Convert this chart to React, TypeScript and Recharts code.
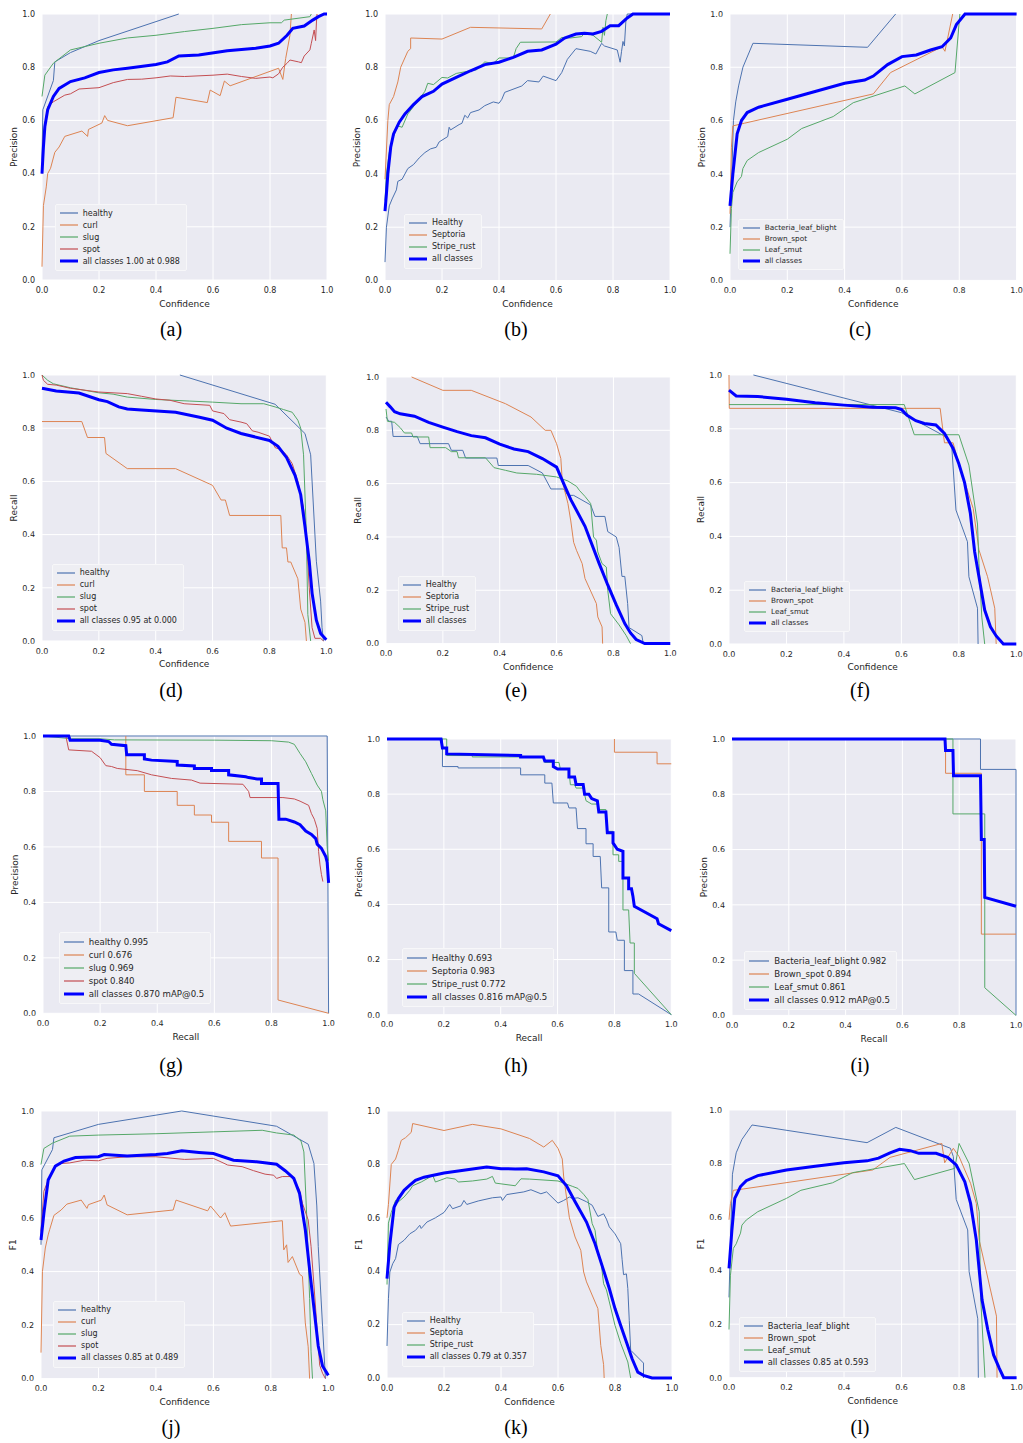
import React from 'react';
import { LineChart, Line, XAxis, YAxis, CartesianGrid, Legend } from 'recharts';

// seaborn "deep" colours used by the per-class curves
const C_BLUE = '#4C72B0';
const C_ORANGE = '#DD8452';
const C_GREEN = '#55A868';
const C_RED = '#C44E52';
const C_ALL = '#0000FF';

const TICKS = [0, 0.2, 0.4, 0.6, 0.8, 1.0];

// ---- (a) precision / confidence, tomato classes
const aHealthy = [[0, 0.45], [0.003, 0.64], [0.04, 0.75], [0.045, 0.82], [0.1, 0.855], [0.2, 0.9], [0.48, 1.0]];
const aCurl = [[0, 0.05], [0.005, 0.28], [0.015, 0.35], [0.02, 0.4], [0.03, 0.42], [0.045, 0.48], [0.06, 0.5], [0.08, 0.54], [0.14, 0.56], [0.16, 0.54], [0.163, 0.566], [0.21, 0.59], [0.22, 0.618], [0.23, 0.6], [0.3, 0.58], [0.46, 0.61], [0.47, 0.687], [0.58, 0.667], [0.59, 0.714], [0.625, 0.693], [0.64, 0.748], [0.66, 0.73], [0.83, 0.796], [0.845, 0.754], [0.855, 0.833], [0.87, 0.92], [0.875, 1.0]];
const aSlug = [[0, 0.69], [0.01, 0.77], [0.04, 0.815], [0.1, 0.865], [0.2, 0.89], [0.3, 0.91], [0.4, 0.92], [0.5, 0.934], [0.6, 0.946], [0.7, 0.96], [0.8, 0.967], [0.84, 0.967], [0.85, 0.977], [0.94, 0.99], [0.945, 1.0]];
const aSpot = [[0, 0.4], [0.005, 0.55], [0.02, 0.652], [0.04, 0.67], [0.08, 0.695], [0.1, 0.7], [0.13, 0.718], [0.2, 0.723], [0.25, 0.742], [0.3, 0.754], [0.35, 0.755], [0.4, 0.76], [0.45, 0.767], [0.5, 0.765], [0.6, 0.77], [0.65, 0.774], [0.7, 0.765], [0.75, 0.758], [0.8, 0.763], [0.81, 0.76], [0.83, 0.775], [0.845, 0.8], [0.86, 0.815], [0.87, 0.827], [0.9, 0.82], [0.91, 0.817], [0.92, 0.842], [0.94, 0.865], [0.945, 0.89], [0.955, 0.94], [0.96, 0.9], [0.963, 0.97], [0.965, 1.0]];
const aAll = [[0, 0.4], [0.005, 0.5], [0.01, 0.576], [0.02, 0.64], [0.04, 0.69], [0.06, 0.72], [0.1, 0.746], [0.15, 0.76], [0.2, 0.78], [0.25, 0.79], [0.3, 0.796], [0.4, 0.81], [0.44, 0.82], [0.48, 0.842], [0.55, 0.846], [0.65, 0.862], [0.75, 0.871], [0.8, 0.88], [0.83, 0.89], [0.86, 0.92], [0.88, 0.946], [0.92, 0.955], [0.95, 0.977], [0.97, 0.99], [0.99, 1.0], [1.0, 1.0]];

// ---- (b) precision / confidence, wheat classes
const bHealthy = [[0, 0.069], [0.005, 0.2], [0.015, 0.28], [0.025, 0.306], [0.04, 0.34], [0.045, 0.372], [0.06, 0.38], [0.08, 0.42], [0.1, 0.435], [0.12, 0.46], [0.14, 0.48], [0.16, 0.494], [0.18, 0.5], [0.19, 0.52], [0.22, 0.54], [0.225, 0.575], [0.23, 0.565], [0.26, 0.585], [0.27, 0.59], [0.28, 0.62], [0.29, 0.61], [0.3, 0.63], [0.33, 0.64], [0.35, 0.656], [0.38, 0.67], [0.4, 0.665], [0.41, 0.68], [0.42, 0.706], [0.48, 0.73], [0.5, 0.75], [0.54, 0.745], [0.555, 0.767], [0.6, 0.75], [0.62, 0.78], [0.64, 0.83], [0.67, 0.87], [0.72, 0.86], [0.74, 0.85], [0.76, 0.89], [0.77, 0.88], [0.8, 0.87], [0.815, 0.865], [0.825, 0.819], [0.83, 0.86], [0.835, 0.897], [0.84, 0.88], [0.845, 0.97], [0.85, 1.0], [1.0, 1.0]];
const bSeptoria = [[0, 0.38], [0.01, 0.6], [0.015, 0.66], [0.03, 0.69], [0.045, 0.745], [0.055, 0.8], [0.08, 0.86], [0.09, 0.87], [0.09, 0.91], [0.2, 0.906], [0.3, 0.95], [0.55, 0.944], [0.58, 1.0]];
const bStripe = [[0, 0.3], [0.005, 0.4], [0.015, 0.48], [0.025, 0.525], [0.035, 0.556], [0.045, 0.58], [0.06, 0.575], [0.08, 0.625], [0.12, 0.68], [0.14, 0.71], [0.15, 0.74], [0.17, 0.735], [0.2, 0.762], [0.22, 0.76], [0.25, 0.777], [0.3, 0.787], [0.32, 0.79], [0.35, 0.82], [0.38, 0.815], [0.4, 0.835], [0.45, 0.835], [0.46, 0.87], [0.475, 0.894], [0.6, 0.895], [0.62, 0.912], [0.65, 0.91], [0.69, 0.915], [0.7, 0.93], [0.73, 0.92], [0.76, 0.894], [0.765, 0.95], [0.77, 0.92], [0.775, 0.975], [0.78, 1.0]];
const bAll = [[0, 0.26], [0.005, 0.325], [0.01, 0.4], [0.02, 0.5], [0.03, 0.55], [0.05, 0.594], [0.07, 0.625], [0.1, 0.66], [0.13, 0.69], [0.17, 0.71], [0.2, 0.737], [0.25, 0.762], [0.3, 0.787], [0.35, 0.81], [0.4, 0.819], [0.45, 0.837], [0.5, 0.86], [0.55, 0.865], [0.6, 0.887], [0.63, 0.91], [0.67, 0.925], [0.7, 0.928], [0.73, 0.925], [0.76, 0.935], [0.79, 0.956], [0.82, 0.956], [0.85, 0.985], [0.87, 1.0], [1.0, 1.0]];

// ---- (c) precision / confidence, rice classes
const cBlight = [[0, 0.2], [0.005, 0.35], [0.012, 0.6], [0.02, 0.67], [0.03, 0.73], [0.045, 0.8], [0.08, 0.89], [0.48, 0.875], [0.578, 1.0]];
const cBrown = [[0, 0.25], [0.005, 0.5], [0.01, 0.58], [0.05, 0.59], [0.5, 0.7], [0.56, 0.78], [0.74, 0.877], [0.75, 0.86], [0.777, 1.0]];
const cSmut = [[0, 0.1], [0.005, 0.27], [0.01, 0.33], [0.025, 0.37], [0.04, 0.39], [0.045, 0.42], [0.06, 0.45], [0.1, 0.48], [0.2, 0.53], [0.25, 0.57], [0.36, 0.615], [0.43, 0.667], [0.61, 0.73], [0.645, 0.7], [0.785, 0.78], [0.802, 1.0]];
const cAll = [[0, 0.28], [0.01, 0.4], [0.025, 0.55], [0.04, 0.6], [0.06, 0.63], [0.1, 0.65], [0.2, 0.68], [0.3, 0.71], [0.4, 0.74], [0.47, 0.752], [0.5, 0.767], [0.55, 0.81], [0.6, 0.84], [0.65, 0.846], [0.7, 0.865], [0.74, 0.877], [0.77, 0.91], [0.79, 0.96], [0.82, 1.0], [1.0, 1.0]];

// ---- (d) recall / confidence
const dHealthy = [[0.485, 1.0], [0.82, 0.89], [0.925, 0.78], [0.945, 0.7], [0.955, 0.5], [0.965, 0.3], [0.98, 0.15], [0.985, 0.05], [0.99, 0.0]];
const dCurl = [[0, 0.825], [0.14, 0.825], [0.16, 0.765], [0.22, 0.765], [0.225, 0.705], [0.3, 0.648], [0.47, 0.648], [0.59, 0.59], [0.6, 0.585], [0.63, 0.53], [0.645, 0.53], [0.66, 0.472], [0.84, 0.472], [0.845, 0.35], [0.86, 0.35], [0.865, 0.297], [0.875, 0.297], [0.9, 0.234], [0.91, 0.12], [0.925, 0.07], [0.93, 0.0]];
const dSlug = [[0, 1.0], [0.02, 0.98], [0.04, 0.967], [0.1, 0.952], [0.2, 0.933], [0.25, 0.928], [0.3, 0.917], [0.4, 0.908], [0.52, 0.902], [0.6, 0.898], [0.7, 0.892], [0.78, 0.892], [0.82, 0.88], [0.85, 0.87], [0.88, 0.86], [0.9, 0.83], [0.91, 0.8], [0.92, 0.7], [0.93, 0.4], [0.935, 0.1], [0.945, 0.0]];
const dSpot = [[0, 1.0], [0.005, 0.98], [0.02, 0.965], [0.05, 0.962], [0.1, 0.95], [0.2, 0.936], [0.3, 0.93], [0.35, 0.92], [0.4, 0.91], [0.45, 0.905], [0.5, 0.892], [0.59, 0.886], [0.6, 0.865], [0.64, 0.855], [0.66, 0.832], [0.7, 0.823], [0.72, 0.817], [0.74, 0.79], [0.76, 0.785], [0.8, 0.77], [0.82, 0.727], [0.84, 0.72], [0.86, 0.7], [0.88, 0.667], [0.9, 0.6], [0.92, 0.5], [0.93, 0.4], [0.94, 0.2], [0.95, 0.05], [0.96, 0.01], [0.98, 0.01], [0.99, 0.0]];
const dAll = [[0, 0.95], [0.05, 0.94], [0.13, 0.932], [0.2, 0.907], [0.23, 0.9], [0.27, 0.88], [0.3, 0.872], [0.35, 0.868], [0.47, 0.86], [0.55, 0.842], [0.6, 0.83], [0.65, 0.8], [0.7, 0.78], [0.8, 0.754], [0.83, 0.732], [0.86, 0.69], [0.89, 0.623], [0.91, 0.55], [0.925, 0.43], [0.94, 0.3], [0.95, 0.18], [0.965, 0.078], [0.98, 0.028], [1.0, 0.005]];

// ---- (e)
const eHealthy = [[0, 0.85], [0.01, 0.834], [0.02, 0.834], [0.025, 0.777], [0.11, 0.777], [0.12, 0.75], [0.22, 0.75], [0.23, 0.725], [0.27, 0.725], [0.28, 0.696], [0.39, 0.696], [0.395, 0.668], [0.5, 0.668], [0.55, 0.64], [0.58, 0.58], [0.625, 0.58], [0.64, 0.556], [0.66, 0.556], [0.72, 0.52], [0.735, 0.477], [0.77, 0.477], [0.78, 0.42], [0.81, 0.4], [0.82, 0.36], [0.83, 0.252], [0.84, 0.252], [0.85, 0.15], [0.855, 0.06], [0.9, 0.03], [0.905, 0.0]];
const eSeptoria = [[0.09, 1.0], [0.2, 0.95], [0.3, 0.95], [0.42, 0.9], [0.51, 0.85], [0.56, 0.8], [0.58, 0.8], [0.6, 0.75], [0.615, 0.694], [0.62, 0.61], [0.64, 0.525], [0.65, 0.46], [0.66, 0.38], [0.67, 0.35], [0.69, 0.3], [0.7, 0.244], [0.74, 0.15], [0.745, 0.1], [0.76, 0.0625], [0.762, 0.0]];
const eStripe = [[0, 0.88], [0.005, 0.834], [0.03, 0.83], [0.05, 0.81], [0.065, 0.79], [0.09, 0.79], [0.095, 0.775], [0.15, 0.775], [0.155, 0.735], [0.21, 0.735], [0.23, 0.72], [0.25, 0.72], [0.255, 0.697], [0.35, 0.697], [0.38, 0.66], [0.42, 0.65], [0.46, 0.64], [0.53, 0.635], [0.6, 0.625], [0.64, 0.61], [0.67, 0.59], [0.68, 0.575], [0.7, 0.552], [0.72, 0.525], [0.73, 0.4], [0.74, 0.388], [0.745, 0.344], [0.76, 0.3], [0.775, 0.287], [0.78, 0.2], [0.79, 0.112], [0.82, 0.07], [0.845, 0.03], [0.86, 0.0]];
const eAll = [[0, 0.905], [0.015, 0.888], [0.03, 0.87], [0.05, 0.862], [0.1, 0.853], [0.15, 0.83], [0.2, 0.812], [0.25, 0.795], [0.3, 0.78], [0.35, 0.772], [0.4, 0.748], [0.45, 0.73], [0.5, 0.72], [0.55, 0.694], [0.6, 0.662], [0.625, 0.6], [0.65, 0.54], [0.7, 0.44], [0.75, 0.3], [0.78, 0.22], [0.81, 0.145], [0.84, 0.075], [0.86, 0.04], [0.88, 0.015], [0.91, 0.0], [1.0, 0.0]];

// ---- (f)
const fBlight = [[0.085, 1.0], [0.6, 0.86], [0.75, 0.773], [0.775, 0.74], [0.79, 0.498], [0.83, 0.38], [0.835, 0.25], [0.865, 0.133], [0.867, 0.0]];
const fBrown = [[0, 1.0], [0.001, 0.876], [0.735, 0.876], [0.75, 0.748], [0.78, 0.748], [0.8, 0.67], [0.85, 0.504], [0.87, 0.35], [0.9, 0.25], [0.925, 0.133], [0.93, 0.0]];
const fSmut = [[0, 0.89], [0.61, 0.89], [0.645, 0.778], [0.8, 0.778], [0.835, 0.665], [0.865, 0.446], [0.87, 0.3], [0.88, 0.1], [0.89, 0.0]];
const fAll = [[0, 0.944], [0.025, 0.922], [0.1, 0.92], [0.2, 0.91], [0.3, 0.897], [0.4, 0.888], [0.5, 0.88], [0.58, 0.878], [0.6, 0.872], [0.62, 0.85], [0.65, 0.83], [0.68, 0.82], [0.72, 0.814], [0.75, 0.783], [0.78, 0.727], [0.8, 0.67], [0.82, 0.6], [0.84, 0.486], [0.855, 0.343], [0.87, 0.25], [0.89, 0.126], [0.91, 0.064], [0.93, 0.03], [0.955, 0.0], [1.0, 0.0]];

// ---- (g) precision / recall
const gHealthy = [[0, 1.0], [0.995, 1.0], [1.0, 0.0]];
const gCurl = [[0.29, 1.0], [0.29, 0.86], [0.355, 0.86], [0.355, 0.8], [0.47, 0.8], [0.47, 0.75], [0.53, 0.75], [0.53, 0.715], [0.59, 0.715], [0.59, 0.689], [0.65, 0.689], [0.65, 0.62], [0.765, 0.62], [0.765, 0.56], [0.823, 0.56], [0.823, 0.048], [1.0, 0.0]];
const gSlug = [[0, 1.0], [0.1, 0.99], [0.2, 0.99], [0.25, 0.986], [0.6, 0.985], [0.8, 0.983], [0.86, 0.978], [0.88, 0.97], [0.9, 0.937], [0.92, 0.907], [0.94, 0.865], [0.96, 0.823], [0.975, 0.8], [0.98, 0.77], [0.99, 0.73], [0.995, 0.6], [1.0, 0.55]];
const gSpot = [[0, 1.0], [0.08, 1.0], [0.09, 0.95], [0.17, 0.945], [0.2, 0.922], [0.22, 0.893], [0.24, 0.89], [0.26, 0.883], [0.33, 0.875], [0.38, 0.86], [0.45, 0.847], [0.52, 0.841], [0.55, 0.83], [0.7, 0.826], [0.72, 0.8], [0.725, 0.778], [0.84, 0.778], [0.88, 0.773], [0.9, 0.765], [0.93, 0.75], [0.94, 0.72], [0.95, 0.7], [0.96, 0.667], [0.965, 0.583], [0.97, 0.535], [0.975, 0.5], [0.98, 0.475]];
const gAll = [[0, 1.0], [0.09, 1.0], [0.095, 0.985], [0.2, 0.985], [0.23, 0.98], [0.24, 0.97], [0.29, 0.965], [0.293, 0.932], [0.355, 0.932], [0.355, 0.917], [0.38, 0.913], [0.47, 0.908], [0.47, 0.895], [0.53, 0.892], [0.53, 0.883], [0.59, 0.883], [0.59, 0.876], [0.65, 0.876], [0.65, 0.86], [0.71, 0.853], [0.72, 0.85], [0.75, 0.845], [0.765, 0.845], [0.765, 0.829], [0.823, 0.829], [0.826, 0.7], [0.85, 0.7], [0.88, 0.69], [0.9, 0.68], [0.92, 0.657], [0.94, 0.645], [0.955, 0.63], [0.96, 0.61], [0.975, 0.595], [0.98, 0.585], [0.99, 0.565], [0.995, 0.545], [1.0, 0.47]];

// ---- (h)
const hHealthy = [[0, 1.0], [0.195, 1.0], [0.195, 0.9], [0.25, 0.9], [0.25, 0.895], [0.47, 0.895], [0.47, 0.87], [0.555, 0.87], [0.555, 0.84], [0.58, 0.84], [0.585, 0.768], [0.635, 0.768], [0.64, 0.75], [0.665, 0.75], [0.67, 0.675], [0.7, 0.675], [0.7, 0.62], [0.725, 0.62], [0.725, 0.574], [0.75, 0.574], [0.755, 0.46], [0.78, 0.46], [0.78, 0.3], [0.805, 0.3], [0.81, 0.27], [0.835, 0.27], [0.835, 0.16], [0.865, 0.16], [0.865, 0.075], [0.885, 0.075], [1.0, 0.0]];
const hSeptoria = [[0.8, 1.0], [0.8, 0.952], [0.95, 0.952], [0.95, 0.91], [1.0, 0.91]];
const hStripe = [[0, 1.0], [0.21, 1.0], [0.21, 0.94], [0.3, 0.94], [0.3, 0.935], [0.55, 0.935], [0.555, 0.915], [0.605, 0.915], [0.61, 0.89], [0.64, 0.89], [0.645, 0.834], [0.66, 0.834], [0.665, 0.822], [0.69, 0.822], [0.7, 0.776], [0.72, 0.764], [0.74, 0.764], [0.745, 0.744], [0.77, 0.744], [0.775, 0.665], [0.795, 0.665], [0.795, 0.58], [0.815, 0.58], [0.815, 0.556], [0.83, 0.556], [0.83, 0.38], [0.85, 0.38], [0.855, 0.26], [0.87, 0.26], [0.87, 0.15], [1.0, 0.0]];
const hAll = [[0, 1.0], [0.19, 1.0], [0.195, 0.967], [0.21, 0.967], [0.21, 0.946], [0.47, 0.94], [0.47, 0.935], [0.55, 0.935], [0.555, 0.92], [0.585, 0.92], [0.585, 0.9], [0.6, 0.891], [0.64, 0.891], [0.64, 0.862], [0.66, 0.862], [0.665, 0.835], [0.69, 0.835], [0.695, 0.8], [0.71, 0.8], [0.72, 0.784], [0.74, 0.776], [0.745, 0.735], [0.77, 0.735], [0.775, 0.66], [0.795, 0.66], [0.795, 0.623], [0.81, 0.6], [0.83, 0.593], [0.83, 0.496], [0.85, 0.496], [0.85, 0.457], [0.86, 0.457], [0.865, 0.43], [0.87, 0.393], [0.95, 0.348], [0.955, 0.33], [1.0, 0.305]];

// ---- (i)
const iBlight = [[0, 1.0], [0.875, 1.0], [0.875, 0.89], [1.0, 0.89], [1.0, 0.0]];
const iBrown = [[0, 1.0], [0.752, 1.0], [0.752, 0.876], [0.878, 0.876], [0.878, 0.294], [1.0, 0.294]];
const iSmut = [[0, 1.0], [0.778, 1.0], [0.778, 0.729], [0.89, 0.729], [0.89, 0.1], [1.0, 0.0]];
const iAll = [[0, 1.0], [0.75, 1.0], [0.752, 0.958], [0.778, 0.958], [0.78, 0.867], [0.875, 0.867], [0.878, 0.636], [0.888, 0.636], [0.89, 0.427], [1.0, 0.395]];

// ---- (j) F1 / confidence
const jHealthy = [[0, 0.5], [0.003, 0.78], [0.04, 0.856], [0.045, 0.9], [0.2, 0.95], [0.49, 1.0], [0.82, 0.943], [0.93, 0.876], [0.95, 0.804], [0.96, 0.645], [0.965, 0.494], [0.98, 0.196], [0.99, 0.0]];
const jCurl = [[0, 0.097], [0.005, 0.4], [0.015, 0.488], [0.025, 0.537], [0.03, 0.556], [0.045, 0.61], [0.07, 0.63], [0.09, 0.652], [0.14, 0.667], [0.16, 0.636], [0.165, 0.65], [0.21, 0.667], [0.22, 0.686], [0.23, 0.649], [0.3, 0.612], [0.46, 0.63], [0.47, 0.667], [0.58, 0.627], [0.59, 0.645], [0.625, 0.6], [0.64, 0.62], [0.66, 0.57], [0.84, 0.59], [0.845, 0.481], [0.855, 0.5], [0.86, 0.434], [0.875, 0.456], [0.9, 0.39], [0.91, 0.382], [0.92, 0.208], [0.93, 0.119], [0.935, 0.0]];
const jSlug = [[0, 0.8], [0.01, 0.86], [0.04, 0.88], [0.1, 0.906], [0.2, 0.91], [0.4, 0.915], [0.6, 0.922], [0.77, 0.928], [0.82, 0.918], [0.88, 0.91], [0.905, 0.888], [0.915, 0.847], [0.925, 0.605], [0.935, 0.3], [0.94, 0.1], [0.945, 0.0]];
const jSpot = [[0, 0.55], [0.01, 0.7], [0.025, 0.742], [0.05, 0.794], [0.07, 0.804], [0.1, 0.806], [0.15, 0.816], [0.2, 0.814], [0.23, 0.823], [0.3, 0.829], [0.4, 0.829], [0.5, 0.819], [0.6, 0.823], [0.65, 0.798], [0.7, 0.792], [0.74, 0.777], [0.78, 0.764], [0.81, 0.76], [0.82, 0.748], [0.84, 0.755], [0.87, 0.755], [0.88, 0.742], [0.9, 0.705], [0.91, 0.655], [0.93, 0.593], [0.94, 0.494], [0.95, 0.35], [0.96, 0.2], [0.97, 0.05], [0.98, 0.02], [0.99, 0.0]];
const jAll = [[0, 0.518], [0.01, 0.618], [0.025, 0.742], [0.05, 0.794], [0.08, 0.813], [0.12, 0.826], [0.2, 0.829], [0.22, 0.837], [0.3, 0.832], [0.4, 0.837], [0.44, 0.841], [0.49, 0.851], [0.55, 0.845], [0.6, 0.841], [0.67, 0.816], [0.75, 0.81], [0.82, 0.801], [0.85, 0.777], [0.88, 0.748], [0.9, 0.692], [0.92, 0.556], [0.935, 0.407], [0.95, 0.264], [0.965, 0.122], [0.98, 0.047], [1.0, 0.012]];

// ---- (k)
const kHealthy = [[0, 0.12], [0.005, 0.297], [0.01, 0.397], [0.02, 0.428], [0.03, 0.447], [0.04, 0.5], [0.06, 0.516], [0.08, 0.54], [0.1, 0.553], [0.115, 0.572], [0.12, 0.56], [0.14, 0.584], [0.17, 0.6], [0.2, 0.62], [0.22, 0.65], [0.23, 0.634], [0.26, 0.645], [0.27, 0.665], [0.28, 0.65], [0.32, 0.663], [0.37, 0.675], [0.4, 0.678], [0.405, 0.665], [0.42, 0.687], [0.48, 0.697], [0.505, 0.705], [0.54, 0.69], [0.56, 0.697], [0.6, 0.655], [0.62, 0.665], [0.64, 0.678], [0.65, 0.672], [0.67, 0.675], [0.7, 0.66], [0.72, 0.647], [0.74, 0.605], [0.76, 0.615], [0.77, 0.595], [0.78, 0.566], [0.8, 0.54], [0.82, 0.503], [0.825, 0.443], [0.83, 0.387], [0.84, 0.39], [0.845, 0.335], [0.85, 0.216], [0.855, 0.104], [0.9, 0.056], [0.9, 0.0]];
const kSeptoria = [[0, 0.6], [0.005, 0.65], [0.015, 0.8], [0.03, 0.82], [0.04, 0.853], [0.05, 0.89], [0.065, 0.9], [0.085, 0.92], [0.09, 0.953], [0.2, 0.927], [0.3, 0.95], [0.4, 0.933], [0.5, 0.897], [0.55, 0.865], [0.58, 0.89], [0.6, 0.86], [0.615, 0.82], [0.62, 0.753], [0.64, 0.6], [0.66, 0.528], [0.68, 0.478], [0.69, 0.397], [0.7, 0.36], [0.74, 0.26], [0.75, 0.122], [0.76, 0.05], [0.762, 0.0]];
const kStripe = [[0, 0.35], [0.005, 0.58], [0.015, 0.62], [0.03, 0.665], [0.04, 0.66], [0.06, 0.678], [0.08, 0.703], [0.09, 0.72], [0.12, 0.734], [0.15, 0.752], [0.16, 0.76], [0.17, 0.734], [0.21, 0.75], [0.24, 0.745], [0.25, 0.734], [0.3, 0.738], [0.35, 0.745], [0.37, 0.755], [0.38, 0.73], [0.45, 0.72], [0.47, 0.746], [0.5, 0.745], [0.6, 0.738], [0.65, 0.718], [0.67, 0.71], [0.69, 0.688], [0.705, 0.668], [0.72, 0.578], [0.73, 0.553], [0.74, 0.466], [0.75, 0.443], [0.76, 0.353], [0.77, 0.33], [0.8, 0.197], [0.82, 0.13], [0.845, 0.06], [0.855, 0.0]];
const kAll = [[0, 0.372], [0.01, 0.5], [0.025, 0.64], [0.04, 0.672], [0.06, 0.703], [0.08, 0.722], [0.1, 0.74], [0.13, 0.752], [0.2, 0.768], [0.25, 0.775], [0.3, 0.783], [0.35, 0.79], [0.4, 0.784], [0.45, 0.783], [0.49, 0.784], [0.55, 0.772], [0.6, 0.757], [0.63, 0.72], [0.66, 0.66], [0.7, 0.584], [0.73, 0.503], [0.76, 0.403], [0.78, 0.335], [0.8, 0.26], [0.82, 0.197], [0.84, 0.135], [0.86, 0.072], [0.88, 0.022], [0.9, 0.01], [0.93, 0.0], [1.0, 0.0]];

// ---- (l)
const lBlight = [[0, 0.3], [0.005, 0.5], [0.012, 0.76], [0.025, 0.84], [0.045, 0.89], [0.08, 0.944], [0.48, 0.878], [0.58, 0.935], [0.77, 0.857], [0.78, 0.826], [0.79, 0.666], [0.83, 0.552], [0.835, 0.396], [0.865, 0.22], [0.867, 0.0]];
const lBrown = [[0, 0.59], [0.005, 0.65], [0.015, 0.7], [0.05, 0.705], [0.5, 0.776], [0.56, 0.823], [0.74, 0.875], [0.75, 0.803], [0.78, 0.857], [0.8, 0.826], [0.84, 0.726], [0.86, 0.651], [0.87, 0.514], [0.93, 0.23], [0.932, 0.0]];
const lSmut = [[0, 0.18], [0.005, 0.383], [0.015, 0.483], [0.025, 0.5], [0.03, 0.514], [0.04, 0.54], [0.045, 0.57], [0.06, 0.589], [0.1, 0.62], [0.2, 0.67], [0.25, 0.7], [0.36, 0.728], [0.43, 0.766], [0.61, 0.8], [0.645, 0.74], [0.785, 0.782], [0.8, 0.875], [0.835, 0.8], [0.87, 0.62], [0.875, 0.3], [0.89, 0.0]];
const lAll = [[0, 0.408], [0.01, 0.55], [0.02, 0.67], [0.04, 0.714], [0.06, 0.736], [0.1, 0.755], [0.2, 0.776], [0.3, 0.79], [0.4, 0.803], [0.48, 0.81], [0.52, 0.82], [0.56, 0.84], [0.593, 0.853], [0.63, 0.848], [0.66, 0.838], [0.72, 0.838], [0.76, 0.823], [0.79, 0.795], [0.82, 0.732], [0.84, 0.651], [0.86, 0.514], [0.87, 0.402], [0.88, 0.29], [0.9, 0.178], [0.92, 0.085], [0.94, 0.035], [0.955, 0.0], [1.0, 0.0]];

type Series = { name: string; color: string; pts: number[][] };
type PanelCfg = {
  id: string;
  x: number; y: number; w: number; h: number;
  yl: string; xl: string;
  lx: number; ly: number; lf: number;
  series: Series[];
};

const tomato = (h: number[][], c: number[][], s: number[][], sp: number[][], all: number[][], n: string[]): Series[] => [
  { name: n[0], color: C_BLUE, pts: h },
  { name: n[1], color: C_ORANGE, pts: c },
  { name: n[2], color: C_GREEN, pts: s },
  { name: n[3], color: C_RED, pts: sp },
  { name: n[4], color: C_ALL, pts: all },
];
const three = (p: number[][], q: number[][], r: number[][], all: number[][], n: string[]): Series[] => [
  { name: n[0], color: C_BLUE, pts: p },
  { name: n[1], color: C_ORANGE, pts: q },
  { name: n[2], color: C_GREEN, pts: r },
  { name: n[3], color: C_ALL, pts: all },
];

const WHEAT = ['Healthy', 'Septoria', 'Stripe_rust', 'all classes'];
const RICE = ['Bacteria_leaf_blight', 'Brown_spot', 'Leaf_smut', 'all classes'];
const TOMATO = ['healthy', 'curl', 'slug', 'spot'];

const PANELS: PanelCfg[] = [
  { id: 'a', x: 41.7, y: 14, w: 285, h: 266, yl: 'Precision', xl: 'Confidence', lx: 55, ly: 204, lf: 8,
    series: tomato(aHealthy, aCurl, aSlug, aSpot, aAll, [...TOMATO, 'all classes 1.00 at 0.988']) },
  { id: 'b', x: 385, y: 13.5, w: 285, h: 266.5, yl: 'Precision', xl: 'Confidence', lx: 404, ly: 213, lf: 8,
    series: three(bHealthy, bSeptoria, bStripe, bAll, WHEAT) },
  { id: 'c', x: 729.7, y: 14.3, w: 286.6, h: 266.4, yl: 'Precision', xl: 'Confidence', lx: 738, ly: 219, lf: 7.3,
    series: three(cBlight, cBrown, cSmut, cAll, RICE) },
  { id: 'd', x: 41.7, y: 374.7, w: 284.3, h: 266, yl: 'Recall', xl: 'Confidence', lx: 52, ly: 564, lf: 8,
    series: tomato(dHealthy, dCurl, dSlug, dSpot, dAll, [...TOMATO, 'all classes 0.95 at 0.000']) },
  { id: 'e', x: 385.7, y: 376.7, w: 284.3, h: 266.6, yl: 'Recall', xl: 'Confidence', lx: 398, ly: 576, lf: 8,
    series: three(eHealthy, eSeptoria, eStripe, eAll, WHEAT) },
  { id: 'f', x: 729, y: 375, w: 287.3, h: 269, yl: 'Recall', xl: 'Confidence', lx: 744, ly: 581, lf: 7.3,
    series: three(fBlight, fBrown, fSmut, fAll, RICE) },
  { id: 'g', x: 42.7, y: 736, w: 285.6, h: 277.3, yl: 'Precision', xl: 'Recall', lx: 59, ly: 932, lf: 8.6,
    series: tomato(gHealthy, gCurl, gSlug, gSpot, gAll, ['healthy 0.995', 'curl 0.676', 'slug 0.969', 'spot 0.840', 'all classes 0.870 mAP@0.5']) },
  { id: 'h', x: 386.7, y: 739.3, w: 284.3, h: 275.7, yl: 'Precision', xl: 'Recall', lx: 402, ly: 948, lf: 8.6,
    series: three(hHealthy, hSeptoria, hStripe, hAll, ['Healthy 0.693', 'Septoria 0.983', 'Stripe_rust 0.772', 'all classes 0.816 mAP@0.5']) },
  { id: 'i', x: 732.3, y: 739.3, w: 284, h: 276.4, yl: 'Precision', xl: 'Recall', lx: 744, ly: 951, lf: 8.6,
    series: three(iBlight, iBrown, iSmut, iAll, ['Bacteria_leaf_blight 0.982', 'Brown_spot 0.894', 'Leaf_smut 0.861', 'all classes 0.912 mAP@0.5']) },
  { id: 'j', x: 41, y: 1110.7, w: 287.3, h: 267.6, yl: 'F1', xl: 'Confidence', lx: 53, ly: 1301, lf: 8,
    series: tomato(jHealthy, jCurl, jSlug, jSpot, jAll, [...TOMATO, 'all classes 0.85 at 0.489']) },
  { id: 'k', x: 386.7, y: 1110.7, w: 285, h: 267, yl: 'F1', xl: 'Confidence', lx: 402, ly: 1312, lf: 8,
    series: three(kHealthy, kSeptoria, kStripe, kAll, ['Healthy', 'Septoria', 'Stripe_rust', 'all classes 0.79 at 0.357']) },
  { id: 'l', x: 728.7, y: 1110, w: 287.6, h: 267.7, yl: 'F1', xl: 'Confidence', lx: 739, ly: 1317, lf: 8.3,
    series: three(lBlight, lBrown, lSmut, lAll, ['Bacteria_leaf_blight', 'Brown_spot', 'Leaf_smut', 'all classes 0.85 at 0.593']) },
];

const CAPTIONS = [
  { t: '(a)', x: 171, y: 329 }, { t: '(b)', x: 516, y: 329 }, { t: '(c)', x: 860, y: 329 },
  { t: '(d)', x: 171, y: 690 }, { t: '(e)', x: 516, y: 690 }, { t: '(f)', x: 860, y: 690 },
  { t: '(g)', x: 171, y: 1065 }, { t: '(h)', x: 516, y: 1065 }, { t: '(i)', x: 860, y: 1065 },
  { t: '(j)', x: 171, y: 1427 }, { t: '(k)', x: 516, y: 1427 }, { t: '(l)', x: 860, y: 1427 },
];

const YW = 40;
const MT = 6;
const MR = 12;
const XH = 32;
const TEXT = '#262626';

const toPoints = (arr: number[][]) => arr.map(([x, y]) => ({ x, y }));
const fmt = (v: number) => v.toFixed(1);

const LegendBox = ({ payload, fs }: { payload?: any[]; fs: number }) => {
  const len = Math.round(fs * 2.3);
  const rowH = Math.round(fs * 1.5);
  return (
    <div
      style={{
        background: '#EEEEF3',
        border: '1px solid #F7F7F9',
        borderRadius: 2,
        padding: '2px 6px 3px 4px',
        fontSize: fs,
        color: TEXT,
        whiteSpace: 'nowrap',
      }}
    >
      {(payload || []).map((e: any) => {
        const thick = e.color === C_ALL;
        return (
          <div key={e.value} style={{ display: 'flex', alignItems: 'center', height: rowH }}>
            <svg width={len} height={6} style={{ marginRight: 5, flex: 'none' }}>
              <line x1={0} y1={3} x2={len} y2={3} stroke={e.color} strokeWidth={thick ? 3 : 1.2} />
            </svg>
            <span>{e.value}</span>
          </div>
        );
      })}
    </div>
  );
};

const Panel = ({ cfg }: { cfg: PanelCfg }) => {
  const left = cfg.x - YW;
  const top = cfg.y - MT;
  const order = cfg.series.map((s) => s.name);
  return (
    <div style={{ position: 'absolute', left, top }}>
      <LineChart width={YW + cfg.w + MR} height={MT + cfg.h + XH} margin={{ top: MT, right: MR, left: 0, bottom: 0 }}>
        <CartesianGrid fill="#EAEAF2" stroke="#FFFFFF" strokeWidth={1} />
        <XAxis
          type="number"
          dataKey="x"
          domain={[0, 1]}
          ticks={TICKS}
          interval={0}
          tickFormatter={fmt}
          axisLine={false}
          tickLine={false}
          tickSize={0}
          tickMargin={7}
          height={XH}
          tick={{ fontSize: 8, fill: TEXT }}
          label={{ value: cfg.xl, position: 'insideBottom', offset: 5.5, style: { fontSize: 9, fill: TEXT } }}
        />
        <YAxis
          type="number"
          domain={[0, 1]}
          ticks={TICKS}
          interval={0}
          tickFormatter={fmt}
          axisLine={false}
          tickLine={false}
          tickSize={0}
          tickMargin={7}
          width={YW}
          tick={{ fontSize: 8, fill: TEXT }}
          label={{ value: cfg.yl, angle: -90, position: 'insideLeft', offset: 12, style: { fontSize: 9, fill: TEXT, textAnchor: 'middle' } }}
        />
        <Legend
          layout="vertical"
          align="center"
          verticalAlign="middle"
          itemSorter={(e: any) => order.indexOf(e.value)}
          wrapperStyle={{ left: Math.round(cfg.lx - left), top: Math.round(cfg.ly - top), width: 'auto', height: 'auto' }}
          content={(p: any) => <LegendBox payload={p.payload} fs={cfg.lf} />}
        />
        {cfg.series.map((s) => (
          <Line
            key={s.name}
            type="linear"
            data={toPoints(s.pts)}
            dataKey="y"
            name={s.name}
            stroke={s.color}
            strokeWidth={s.color === C_ALL ? 3 : 1}
            dot={false}
            activeDot={false}
            isAnimationActive={false}
          />
        ))}
      </LineChart>
    </div>
  );
};

export default function App() {
  return (
    <div
      style={{
        position: 'absolute',
        left: 0,
        top: 0,
        width: 1023,
        height: 1443,
        overflow: 'hidden',
        background: '#FFFFFF',
        fontFamily: '"DejaVu Sans", sans-serif',
      }}
    >
      {PANELS.map((p) => (
        <Panel key={p.id} cfg={p} />
      ))}
      {CAPTIONS.map((c) => (
        <div
          key={c.t}
          style={{
            position: 'absolute',
            left: c.x - 30,
            top: c.y - 12,
            width: 60,
            height: 24,
            lineHeight: '24px',
            textAlign: 'center',
            fontFamily: '"Liberation Serif", serif',
            fontSize: 20,
            color: '#000',
          }}
        >
          {c.t}
        </div>
      ))}
    </div>
  );
}
